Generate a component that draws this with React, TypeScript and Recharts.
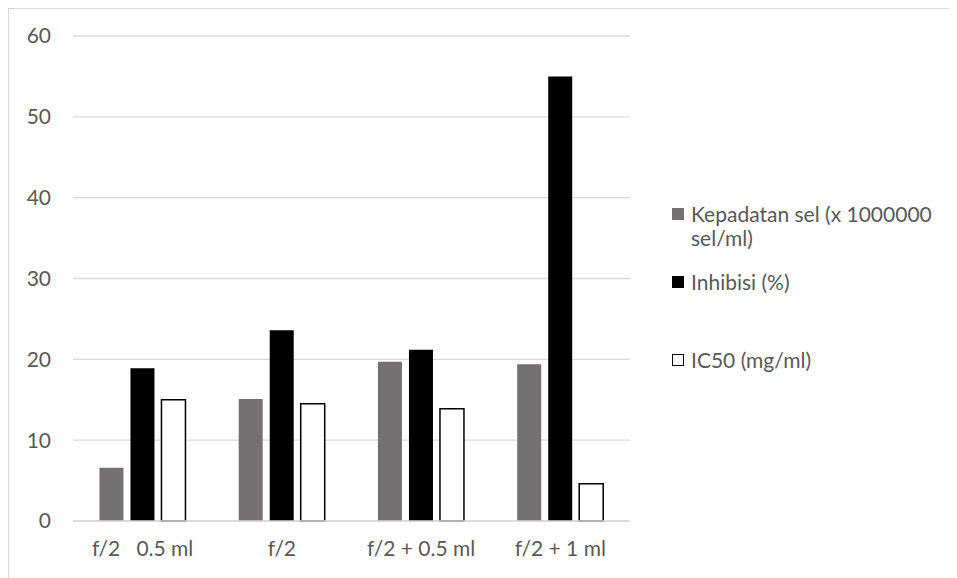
import { BarChart, Bar, XAxis, YAxis, CartesianGrid, Legend } from "recharts";

const categories = ["f/2\u00a0\u00a0\u00a00.5 ml", "f/2", "f/2 + 0.5 ml", "f/2 + 1 ml"];
const kepadatan = [6.6, 15.1, 19.7, 19.4];
const inhibisi = [18.9, 23.6, 21.2, 55];
const ic50 = [15.0, 14.5, 13.9, 4.6];
const yTicks = [0, 10, 20, 30, 40, 50, 60];

const seriesInfo = [
  { key: "kepadatan", name: "Kepadatan sel (x 1000000 sel/ml)", lines: ["Kepadatan sel (x 1000000", "sel/ml)"], fill: "#767171", stroke: "none", top: 0 },
  { key: "inhibisi", name: "Inhibisi (%)", lines: ["Inhibisi (%)"], fill: "#000000", stroke: "none", top: 68 },
  { key: "ic50", name: "IC50 (mg/ml)", lines: ["IC50 (mg/ml)"], fill: "#ffffff", stroke: "#000000", top: 146 },
];

const data = categories.map((name, i) => ({
  name,
  kepadatan: kepadatan[i],
  inhibisi: inhibisi[i],
  ic50: ic50[i],
}));

const FONT = "Lato, 'Noto Sans', sans-serif";
const TEXT = "#595959";
const FS = 21;

// legend drawn as a fixed block to the right of the plot
const renderLegend = () => (
  <div style={{ position: "relative", width: 290, height: 190, fontFamily: FONT, fontSize: FS, color: TEXT }}>
    {seriesInfo.map((s) => (
      <div key={s.key} style={{ position: "absolute", left: 0, top: s.top }}>
        <div
          style={{
            position: "absolute",
            left: 0,
            top: 6,
            width: s.stroke === "none" ? 12 : 10,
            height: s.stroke === "none" ? 12 : 10,
            background: s.fill,
            border: s.stroke === "none" ? "none" : `1.5px solid ${s.stroke}`,
          }}
        />
        <div style={{ position: "absolute", left: 19, top: 0, lineHeight: "24px", whiteSpace: "nowrap" }}>
          {s.lines.map((l) => (
            <div key={l}>{l}</div>
          ))}
        </div>
      </div>
    ))}
  </div>
);

export default function App() {
  return (
    <div
      style={{
        width: 949,
        height: 570,
        boxSizing: "border-box",
        borderTop: "1px solid #d9d9d9",
        borderLeft: "1px solid #d9d9d9",
        background: "#fff",
      }}
    >
      <BarChart
        width={948}
        height={569}
        data={data}
        margin={{ top: 27, right: 327, left: 4, bottom: 17 }}
        barCategoryGap="19%"
        barGap={7}
      >
        <CartesianGrid vertical={false} stroke="#d9d9d9" strokeWidth={1.3} />
        <XAxis
          dataKey="name"
          axisLine={{ stroke: "#d9d9d9", strokeWidth: 1.3 }}
          tickLine={false}
          tickSize={0}
          tickMargin={20}
          height={40}
          tick={{ fill: TEXT, fontSize: FS, fontFamily: FONT }}
        />
        <YAxis
          domain={[0, 60]}
          ticks={yTicks}
          axisLine={false}
          tickLine={false}
          tickSize={0}
          tickMargin={22}
          width={60}
          tick={{ fill: TEXT, fontSize: FS, fontFamily: FONT }}
        />
        <Legend
          layout="horizontal"
          verticalAlign="middle"
          align="center"
          content={renderLegend}
          wrapperStyle={{ left: 663, top: 193, width: 290, height: 190 }}
        />
        <Bar dataKey="kepadatan" name={seriesInfo[0].name} fill="#767171" isAnimationActive={false} />
        <Bar dataKey="inhibisi" name={seriesInfo[1].name} fill="#000000" isAnimationActive={false} />
        <Bar dataKey="ic50" name={seriesInfo[2].name} fill="#ffffff" stroke="#000000" strokeWidth={1.5} isAnimationActive={false} />
      </BarChart>
    </div>
  );
}
